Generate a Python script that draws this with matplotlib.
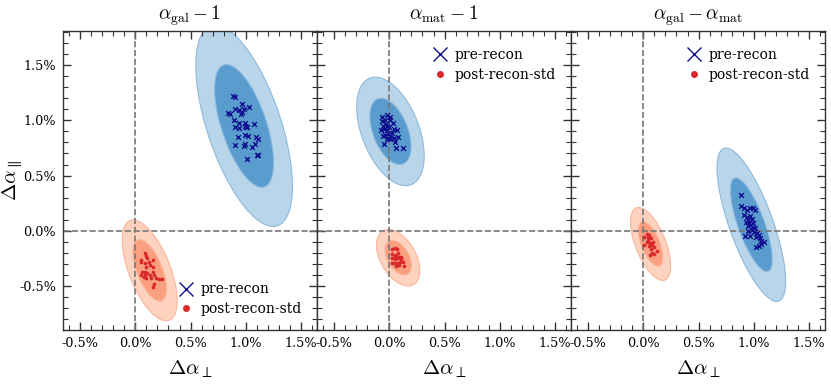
import numpy as np
import matplotlib
matplotlib.use("Agg")
import matplotlib.pyplot as plt
from matplotlib.lines import Line2D

plt.rcParams['font.family'] = ['DejaVu Serif']
plt.rcParams['mathtext.fontset'] = 'cm'

titles = [r'$\alpha_{\rm gal}-1$', r'$\alpha_{\rm mat}-1$', r'$\alpha_{\rm gal}-\alpha_{\rm mat}$']
tick_vals = [-0.5, 0.0, 0.5, 1.0, 1.5]
tick_labels = ['-0.5%', '0.0%', '0.5%', '1.0%', '1.5%']

# ellipse parameters (in %): center x, center y, sigma_x, sigma_y, rho
pre_ell = [(0.985, 0.95, 0.176, 0.367, -0.6),
           (0.01, 0.90, 0.123, 0.198, -0.45),
           (0.978, 0.054, 0.125, 0.28, -0.74)]
post_ell = [(0.13, -0.36, 0.10, 0.184, -0.6),
            (0.08, -0.245, 0.079, 0.103, -0.45),
            (0.066, -0.12, 0.073, 0.133, -0.6)]
levels = [6.17, 2.30]

pre_x1 = [0.885, 0.90, 0.97, 1.03, 0.84, 0.86, 0.90, 0.94, 0.97, 0.98, 0.96, 0.89, 0.94, 0.99, 1.07,
          0.90, 0.94, 0.99, 1.00, 1.01, 0.93, 0.99, 1.02, 1.09, 1.11, 0.90, 0.98, 0.99, 1.06, 1.08,
          1.10, 1.11, 1.01]
pre_y1 = [1.22, 1.21, 1.15, 1.12, 1.07, 1.06, 1.10, 1.09, 1.08, 1.10, 1.06, 1.00, 0.98, 0.98, 0.97,
          0.94, 0.93, 0.95, 0.94, 0.94, 0.85, 0.87, 0.86, 0.85, 0.83, 0.78, 0.77, 0.79, 0.76, 0.79,
          0.69, 0.69, 0.65]
post_x1 = [0.085, 0.05, 0.05, 0.10, 0.11, 0.16, 0.09, 0.12, 0.13, 0.10, 0.16, 0.06, 0.09, 0.11, 0.16,
           0.09, 0.13, 0.17, 0.08, 0.10, 0.14, 0.19, 0.21, 0.24, 0.17, 0.16, 0.05]
post_y1 = [-0.20, -0.27, -0.28, -0.23, -0.25, -0.27, -0.29, -0.28, -0.31, -0.33, -0.33, -0.37, -0.37,
           -0.38, -0.37, -0.40, -0.40, -0.40, -0.42, -0.43, -0.43, -0.43, -0.44, -0.44, -0.48, -0.51, -0.40]

pre_x2 = [-0.07, -0.02, 0.01, -0.07, -0.04, 0.01, 0.03, -0.06, -0.02, 0.00, -0.08, -0.05, -0.02, 0.04,
          0.07, -0.04, -0.01, 0.01, -0.06, -0.02, 0.01, 0.04, 0.08, -0.05, 0.05, 0.06, 0.12, 0.02, -0.03]
pre_y2 = [1.03, 1.05, 1.03, 0.99, 1.00, 1.00, 0.98, 0.95, 0.95, 0.94, 0.91, 0.92, 0.91, 0.92,
          0.91, 0.87, 0.88, 0.86, 0.86, 0.83, 0.83, 0.84, 0.85, 0.79, 0.80, 0.75, 0.75, 0.89, 0.97]
post_x2 = [0.02, 0.05, 0.07, 0.02, 0.05, 0.08, 0.02, 0.05, 0.08, 0.11, 0.04, 0.07, 0.10, 0.12,
           0.06, 0.09, 0.13, 0.02, 0.11, 0.06, 0.09]
post_y2 = [-0.17, -0.16, -0.17, -0.21, -0.23, -0.20, -0.25, -0.26, -0.25, -0.24, -0.29, -0.29, -0.28,
           -0.28, -0.32, -0.31, -0.32, -0.29, -0.26, -0.22, -0.24]

pre_x3 = [0.885, 0.885, 0.91, 0.94, 0.97, 0.99, 1.01, 0.91, 0.94, 0.97, 0.98, 0.95, 0.93, 0.96, 0.99,
          0.97, 0.95, 0.99, 1.01, 0.98, 0.95, 1.00, 1.03, 1.05, 0.92, 0.97, 1.02, 1.06, 1.07, 1.09,
          1.07, 1.05, 1.02]
pre_y3 = [0.32, 0.22, 0.21, 0.19, 0.21, 0.21, 0.19, 0.14, 0.12, 0.13, 0.11, 0.10, 0.08, 0.07, 0.07,
          0.05, 0.04, 0.03, 0.02, 0.01, 0.00, -0.01, -0.02, -0.04, -0.05, -0.05, -0.06, -0.07, -0.09,
          -0.10, -0.12, -0.14, -0.15]
post_x3 = [0.03, 0.05, 0.01, 0.04, 0.07, 0.03, 0.06, 0.01, 0.05, 0.08, 0.07, 0.10, 0.12, 0.08, 0.06,
           0.10, 0.04, 0.09]
post_y3 = [-0.03, -0.04, -0.06, -0.06, -0.07, -0.10, -0.11, -0.13, -0.14, -0.13, -0.17, -0.15, -0.18,
           -0.20, -0.22, -0.21, -0.08, -0.10]

pre_pts = [(pre_x1, pre_y1), (pre_x2, pre_y2), (pre_x3, pre_y3)]
post_pts = [(post_x1, post_y1), (post_x2, post_y2), (post_x3, post_y3)]

blue_cols = ['#b9d5ea', '#5a9ccd']
blue_edge = '#8dbbdf'
red_cols = ['#fdd2bf', '#fa9f7f']
red_edge = '#fbb69b'
pre_color = '#101090'
post_color = '#d8282a'


def ellipse_xy(p, k, n=200):
    mx, my, sx, sy, r = p
    cov = np.array([[sx * sx, r * sx * sy], [r * sx * sy, sy * sy]])
    L = np.linalg.cholesky(cov)
    t = np.linspace(0, 2 * np.pi, n)
    u = np.vstack([np.cos(t), np.sin(t)]) * np.sqrt(k)
    xy = L @ u
    return mx + xy[0], my + xy[1]


fig = plt.figure(figsize=(8.31, 3.85), dpi=100)
left, right, bottom, top = 63 / 831, 825 / 831, 1 - 330 / 385, 1 - 31 / 385
w = (right - left) / 3
axes = []
for i in range(3):
    ax = fig.add_axes([left + i * w, bottom, w, top - bottom])
    axes.append(ax)
    for p, cols, ec in [(pre_ell[i], blue_cols, blue_edge), (post_ell[i], red_cols, red_edge)]:
        for k, c in zip(levels, cols):
            ex, ey = ellipse_xy(p, k)
            ax.fill(ex, ey, facecolor=c, edgecolor=ec, lw=0.8, zorder=1)
    ax.axvline(0, color='#777777', ls='--', lw=1.2, zorder=2)
    ax.axhline(0, color='#777777', ls='--', lw=1.2, zorder=2)
    ax.scatter(pre_pts[i][0], pre_pts[i][1], marker='x', s=12, color=pre_color, lw=1.0, zorder=3)
    ax.scatter(post_pts[i][0], post_pts[i][1], marker='o', s=7, color=post_color, lw=0, zorder=3)
    ax.set_xlim(-0.655, 1.645)
    ax.set_ylim(-0.9, 1.81)
    ax.set_xticks(tick_vals)
    ax.set_xticklabels(tick_labels)
    ax.set_yticks(tick_vals)
    ax.set_yticklabels(tick_labels)
    ax.set_xticks(np.arange(-0.6, 1.61, 0.1), minor=True)
    ax.set_yticks(np.arange(-0.9, 1.81, 0.1), minor=True)
    ax.tick_params(which='both', direction='in', top=True, right=True, colors='#333333',
                   labelcolor='black', labelsize=9.2)
    ax.tick_params(which='major', length=6, width=1, pad=5)
    ax.tick_params(which='minor', length=3.5, width=0.8)
    if i > 0:
        ax.tick_params(labelleft=False)
    for s in ax.spines.values():
        s.set_color('#333333')
        s.set_linewidth(1.0)
    ax.set_title(titles[i], fontsize=14, pad=8)
    ax.set_xlabel(r'$\Delta\alpha_\perp$', fontsize=15, labelpad=6)

axes[0].set_ylabel(r'$\Delta\alpha_\parallel$', fontsize=15)
axes[0].yaxis.set_label_coords(-0.15, 0.5)

handles = [Line2D([], [], marker='x', color=pre_color, lw=0, markersize=10, mew=1.0),
           Line2D([], [], marker='o', color=post_color, lw=0, markersize=5, mew=0)]
names = ['pre-recon', 'post-recon-std']
leg_locs = [('lower right', (0.99, 0.005)), ('upper right', (0.99, 0.985)), ('upper right', (0.99, 0.985))]
for ax, (loc, anc) in zip(axes, leg_locs):
    ax.legend(handles, names, loc=loc, bbox_to_anchor=anc, frameon=False, fontsize=10,
              handletextpad=0.45, labelspacing=0.4, handlelength=1.2)

fig.savefig('out.png', dpi=100)
